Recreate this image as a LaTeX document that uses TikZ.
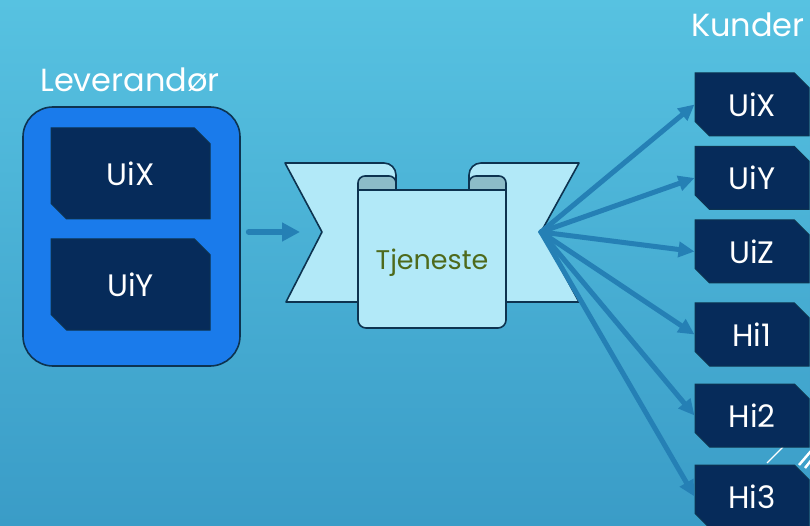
\documentclass[tikz,border=0pt]{standalone}
\usepackage{fontspec}
\setmainfont{Poppins}
\usetikzlibrary{arrows.meta,shapes.misc}

\definecolor{bgtop}{HTML}{57C2E1}
\definecolor{bgbot}{HTML}{3A9CC7}
\definecolor{levblue}{HTML}{1A7BEB}
\definecolor{navy}{HTML}{062B5A}
\definecolor{edge}{HTML}{0D3350}
\definecolor{bandlight}{HTML}{B2E9F8}
\definecolor{bandback}{HTML}{8CBCC8}
\definecolor{olive}{HTML}{4E6A1C}
\definecolor{pil}{HTML}{2580B5}

\newcommand\boxfont{\fontsize{31}{31}\selectfont}
\newcommand\titlefont{\fontsize{32}{32}\selectfont}

\tikzset{
  unit/.style={chamfered rectangle, chamfered rectangle corners={north east,south west},
    fill=navy, draw=edge, line width=1pt, text=white, font=\boxfont, inner sep=0pt},
  band/.style={fill=bandlight, draw=edge, line width=1.6pt, line join=round},
  fan/.style={draw=pil, line width=5pt, line cap=round, -{Triangle[length=16pt,width=15pt]}},
}

\begin{document}
\begin{tikzpicture}[x=1pt,y=1pt]
  \useasboundingbox (0,0) rectangle (810,525);
  \shade [top color=bgtop, bottom color=bgbot] (0,0) rectangle (810,525);
  \draw [white, line width=1.2pt] (767,62) -- (783,78);
  \draw [white, line width=2.5pt] (799,60) -- (811,74);
  \draw [white, line width=2.5pt] (805,57) -- (813,67);

  % leverandor
  \node [anchor=base, text=white, font=\titlefont] (levtitle) at (130,433) {Leverandør};
  \node [draw=edge, fill=levblue, line width=1.6pt, rounded corners=30pt,
         minimum width=217pt, minimum height=259pt] (lev) at (131.5,288.5) {};
  \node [unit, chamfered rectangle xsep=15pt, minimum width=159pt, minimum height=91pt] (lx) at (130.5,351.5) {UiX};
  \node [unit, chamfered rectangle xsep=15pt, minimum width=159pt, minimum height=91pt] (ly) at (130.5,240.5) {UiY};

  % ribbon
  \coordinate (inn) at (322,293);
  \coordinate (ut) at (541,293);
  \draw [band] (285,362) -- (384,362) arc [start angle=90, end angle=0, radius=12pt]
    -- (396,223) -- (286,223) -- (inn) -- cycle;
  \draw [band] (579,362) -- (481,362) arc [start angle=90, end angle=180, radius=12pt]
    -- (469,223) -- (579,223) -- (ut) -- cycle;
  \draw [band, fill=bandback] (358,335) -- (358,342) arc [start angle=180, end angle=90, radius=7pt]
    -- (389,349) arc [start angle=90, end angle=0, radius=7pt] -- (396,335);
  \draw [band, fill=bandback] (469,335) -- (469,342) arc [start angle=180, end angle=90, radius=7pt]
    -- (499,349) arc [start angle=90, end angle=0, radius=7pt] -- (506,335);
  \draw [band] (358,335) -- (358,205) arc [start angle=180, end angle=270, radius=8pt]
    -- (498,197) arc [start angle=270, end angle=360, radius=8pt] -- (506,335) -- cycle;
  \node [anchor=base, text=olive, font=\fontsize{27}{27}\selectfont] (tjeneste) at (432,255) {Tjeneste};

  \draw [draw=pil, line width=6pt, line cap=round, -{Triangle[length=18pt,width=18pt]},
         shorten <=8pt, shorten >=22pt] (lev.east |- inn) -- (inn);

  % kunder
  \node [anchor=base west, text=white, font=\titlefont, inner sep=0pt] (kunder) at (691,488) {Kunder};
  \foreach \name/\txt/\y in {k1/UiX/420.5, k2/UiY/347, k3/UiZ/273.5, k4/Hi1/190.5, k5/Hi2/109.5, k6/Hi3/28.5}
    \node [unit, chamfered rectangle xsep=11pt, minimum width=114pt, minimum height=63pt] (\name) at (752,\y) {\txt};
  \foreach \name in {k1,k2,k3,k4,k5,k6}
    \draw [fan] (ut) -- (\name.west);
\end{tikzpicture}
\end{document}
